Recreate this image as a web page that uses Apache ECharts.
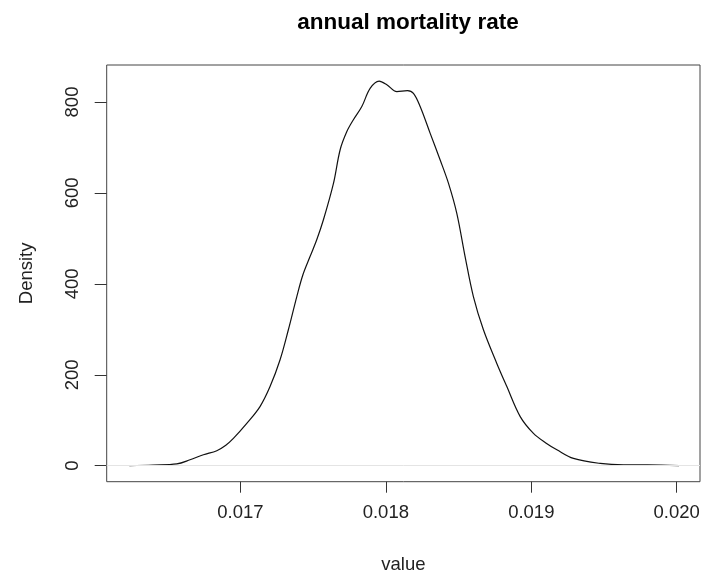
<!DOCTYPE html>
<html>
<head>
<meta charset="utf-8">
<script src="https://cdn.jsdelivr.net/npm/echarts@6/dist/echarts.min.js"></script>
<style>html,body{margin:0;padding:0;background:#fff;}#c{width:703px;height:574px;}</style>
</head>
<body>
<div id="c"></div>
<script>
var titleText = 'annual mortality rate';
var xLabel = 'value';
var yLabel = 'Density';
var xTicks = [0.017, 0.018, 0.019, 0.020];
var xTickLabels = ['0.017', '0.018', '0.019', '0.020'];
var yTicks = [0, 200, 400, 600, 800];
var xValues = [0.016237, 0.016400, 0.016563, 0.016654, 0.016746, 0.016838, 0.016900, 0.016952, 0.017044,
  0.017135, 0.017204, 0.017273, 0.017330, 0.017388, 0.017430, 0.017479, 0.017525, 0.017571, 0.017640,
  0.017686, 0.017732, 0.017777, 0.017835, 0.017892, 0.017954, 0.018007, 0.018076, 0.018149, 0.018190,
  0.018236, 0.018305, 0.018373, 0.018431, 0.018488, 0.018545, 0.018602, 0.018671, 0.018763,
  0.018832, 0.018924, 0.019015, 0.019100, 0.019176, 0.019290, 0.019474, 0.019634, 0.019800, 0.020016];
var density = [0, 1.5, 4, 13, 24, 33, 45, 60, 93,
  130, 174, 233, 299, 372, 420, 460, 497, 541, 621,
  695, 735, 761, 790, 830, 846, 838, 823, 825, 819,
  790, 731, 673, 621, 555, 460, 372, 299, 225,
  174, 108, 71, 50, 35, 16, 5, 2, 2, 0];

var pts = xValues.map(function (x, i) { return [x, density[i]]; });
var font = 'Liberation Sans, Arial, Helvetica, sans-serif';
var chart = echarts.init(document.getElementById('c'), null, {renderer: 'canvas'});
chart.setOption({
  backgroundColor: '#fff',
  animation: false,
  title: {
    text: titleText, left: 403, top: 6, textAlign: 'center',
    textStyle: {fontFamily: font, fontSize: 22.5, fontWeight: 'bold', color: '#000'}
  },
  grid: {left: 106.7, right: 3, top: 65, bottom: 92.3, outerBoundsMode: 'none', containLabel: false,
    show: true, borderColor: '#444', borderWidth: 1, backgroundColor: 'transparent'},
  xAxis: {
    type: 'value', min: 0.016081, max: 0.02016,
    name: xLabel, nameLocation: 'middle', nameGap: 74,
    nameTextStyle: {fontFamily: font, fontSize: 18.5, color: '#222'},
    axisLine: {show: false, onZero: false},
    axisTick: {show: true, inside: false, length: 11, lineStyle: {color: '#333', width: 1}, customValues: xTicks},
    axisLabel: {customValues: xTicks, margin: 22, fontFamily: font, fontSize: 18.5, color: '#222',
      formatter: function (v) { var i = xTicks.indexOf(v); return i >= 0 ? xTickLabels[i] : v.toFixed(3); }},
    splitLine: {show: false}
  },
  yAxis: {
    type: 'value', min: -35.2, max: 881.4,
    name: yLabel, nameLocation: 'middle', nameGap: 70,
    nameTextStyle: {fontFamily: font, fontSize: 18.5, color: '#222'},
    axisLine: {show: false, onZero: false},
    axisTick: {show: true, inside: false, length: 12, lineStyle: {color: '#333', width: 1}, customValues: yTicks},
    axisLabel: {customValues: yTicks, rotate: 90, margin: 24, fontFamily: font, fontSize: 18.5, color: '#222'},
    splitLine: {show: false}
  },
  series: [{
    type: 'line', data: pts, smooth: 0.35, showSymbol: false, symbol: 'none',
    lineStyle: {color: '#111', width: 1.2},
    markLine: {
      silent: true, symbol: 'none', label: {show: false},
      lineStyle: {color: '#e4e4e4', type: 'solid', width: 1},
      data: [{yAxis: 0}]
    }
  }]
});
</script>
</body>
</html>
